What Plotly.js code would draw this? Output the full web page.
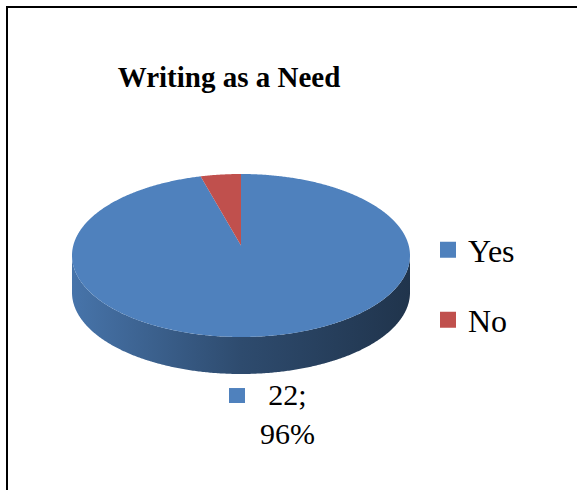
<!DOCTYPE html>
<html>
<head>
<meta charset="utf-8">
<script src="https://cdn.plot.ly/plotly-3.0.1.min.js"></script>
<style>html,body{margin:0;padding:0;background:#fff;}#chart{width:577px;height:490px;}</style>
</head>
<body>
<div id="chart"></div>
<script>
// ---- data ----
const chartTitle = 'Writing as a Need';
const categories = ['Yes', 'No'];
const values = [22, 1];
const sliceColors = ['#4f81bd', '#c0504d'];

// ---- geometry of the pseudo-3D pie (pixel units) ----
const W = 577, H = 490;
const CX = 241, CY = 255.5, RX = 169, RY = 81.5, DEPTH = 37, A = -0.123;
const SERIF = 'Liberation Serif, Times New Roman, serif';

function shade(hex, f) {
  const n = parseInt(hex.slice(1), 16);
  const r = Math.round(((n >> 16) & 255) * f), g = Math.round(((n >> 8) & 255) * f), b = Math.round((n & 255) * f);
  return 'rgb(' + r + ',' + g + ',' + b + ')';
}
// theta: degrees clockwise from 12 o'clock on the disc; returns screen point
function project(theta) {
  const t = theta * Math.PI / 180, u = Math.sin(t), v = -Math.cos(t), d = 1 + A * v;
  return [CX + RX * Math.sqrt(1 - A * A) * u / d, CY + RY * (v + A) / d];
}
function imgAngle(theta) {
  const p = project(theta);
  let phi = Math.atan2((p[1] - CY) / RY, (p[0] - CX) / RX) * 180 / Math.PI;
  const ref = theta - 90;
  while (phi < ref - 180) phi += 360;
  while (phi > ref + 180) phi -= 360;
  return phi;
}

const total = values.reduce((a, b) => a + b, 0);
const sideTraces = [], topTraces = [];
let start = 0;
const center = [CX, CY + RY * A];
const slices = [];
values.forEach((val, i) => {
  const end = start + 360 * val / total;
  slices.push({start, end});
  // top face
  const xs = [center[0]], ys = [center[1]];
  const n = Math.max(4, Math.ceil((end - start) / 0.5));
  for (let k = 0; k <= n; k++) {
    const p = project(start + (end - start) * k / n);
    xs.push(p[0]); ys.push(p[1]);
  }
  xs.push(center[0]); ys.push(center[1]);
  topTraces.push({
    type: 'scatter', mode: 'none', x: xs, y: ys, fill: 'toself',
    fillcolor: sliceColors[i], hoverinfo: 'skip', showlegend: false
  });
  // side (front-facing part only)
  const p1 = imgAngle(start), p2 = imgAngle(end);
  for (let off = -360; off <= 360; off += 360) {
    const a1 = Math.max(p1, off), a2 = Math.min(p2, off + 180);
    if (a2 > a1) {
      const sx = [], sy = [];
      const m = Math.max(4, Math.ceil((a2 - a1) / 0.5));
      for (let k = 0; k <= m; k++) {
        const ph = (a1 + (a2 - a1) * k / m) * Math.PI / 180;
        sx.push(CX + RX * Math.cos(ph)); sy.push(CY + RY * Math.sin(ph));
      }
      for (let k = m; k >= 0; k--) {
        const ph = (a1 + (a2 - a1) * k / m) * Math.PI / 180;
        sx.push(CX + RX * Math.cos(ph)); sy.push(CY + RY * Math.sin(ph) + DEPTH);
      }
      sideTraces.push({
        type: 'scatter', mode: 'none', x: sx, y: sy, fill: 'toself',
        fillcolor: shade(sliceColors[i], 0.6),
        fillgradient: {type: 'horizontal', colorscale: [
          [0, shade(sliceColors[i], 0.9)], [0.5, shade(sliceColors[i], 0.58)], [1, shade(sliceColors[i], 0.4)]
        ]},
        hoverinfo: 'skip', showlegend: false
      });
    }
  }
  start = end;
});

// legend entries
const legendTraces = categories.map((c, i) => ({
  type: 'scatter', mode: 'markers', x: [null], y: [null], name: c,
  marker: {symbol: 'square', size: 16, color: sliceColors[i], line: {width: 0}},
  legend: i === 0 ? 'legend' : 'legend2', showlegend: true, hoverinfo: 'skip'
}));

// data label for the first slice (Excel shows only "Yes")
const mid = (slices[0].start + slices[0].end) / 2;
const mp = project(mid);
const labelX = mp[0], labelTop = mp[1] + DEPTH;
const pct = Math.round(values[0] / total * 100);

const layout = {
  width: W, height: H,
  margin: {l: 0, r: 0, t: 0, b: 0},
  paper_bgcolor: '#fff', plot_bgcolor: '#fff',
  xaxis: {range: [0, W], visible: false, fixedrange: true},
  yaxis: {range: [H, 0], visible: false, fixedrange: true},
  title: {
    text: chartTitle, x: 229 / W, xanchor: 'center', y: 1 - 77 / H, yanchor: 'middle',
    font: {family: SERIF, size: 29, color: '#000', weight: 'bold'}
  },
  showlegend: true,
  legend: {x: 428 / W, xanchor: 'left', y: 1 - 250 / H, yanchor: 'middle',
    font: {family: SERIF, size: 32, color: '#000'}, bgcolor: 'rgba(0,0,0,0)', borderwidth: 0},
  legend2: {x: 428 / W, xanchor: 'left', y: 1 - 320 / H, yanchor: 'middle',
    font: {family: SERIF, size: 32, color: '#000'}, bgcolor: 'rgba(0,0,0,0)', borderwidth: 0},
  shapes: [
    {type: 'rect', xref: 'x', yref: 'y', x0: 7, x1: W + 20, y0: 7, y1: H + 20,
      line: {color: '#000', width: 2}, fillcolor: 'rgba(0,0,0,0)', layer: 'above'},
    {type: 'rect', xref: 'x', yref: 'y', x0: labelX - 38, x1: labelX - 22, y0: labelTop + 15, y1: labelTop + 30,
      line: {width: 0}, fillcolor: sliceColors[0]}
  ],
  annotations: [
    {xref: 'x', yref: 'y', x: labelX + 20, y: labelTop + 41, xanchor: 'center', yanchor: 'middle',
      text: values[0] + ';<br>' + pct + '%', showarrow: false, align: 'center',
      font: {family: SERIF, size: 30, color: '#000'}}
  ]
};

Plotly.newPlot('chart', sideTraces.concat(topTraces, legendTraces), layout, {displayModeBar: false, staticPlot: true});
</script>
</body>
</html>
